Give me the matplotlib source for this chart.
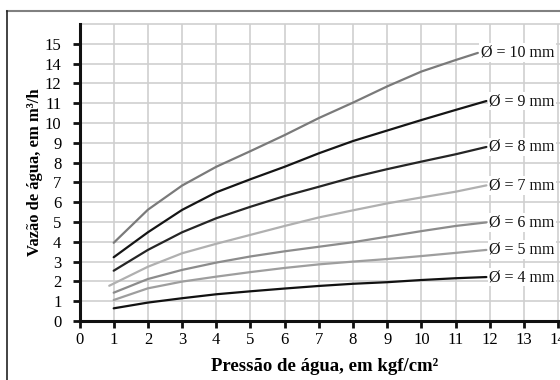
import matplotlib
matplotlib.use("Agg")
import matplotlib.pyplot as plt
from matplotlib.lines import Line2D

plt.rcParams['font.family'] = ['Liberation Serif', 'DejaVu Serif']

# Data (y values are in positions of the y tick scale, as drawn)
x_common = [1, 2, 3, 4, 5, 6, 7, 8, 9, 10, 11, 11.9]
d10_x = [1, 2, 3, 4, 5, 6, 7, 8, 9, 10, 11, 11.65]
d10_y = [3.95, 5.62, 6.84, 7.79, 8.58, 9.39, 10.25, 11.03, 11.85, 12.6, 13.18, 13.54]
d9_y = [3.22, 4.48, 5.61, 6.50, 7.16, 7.79, 8.47, 9.09, 9.62, 10.15, 10.66, 11.11]
d8_y = [2.54, 3.59, 4.48, 5.19, 5.77, 6.31, 6.78, 7.26, 7.67, 8.05, 8.42, 8.79]
d7_x = [0.87, 2, 3, 4, 5, 6, 7, 8, 9, 10, 11, 11.9]
d7_y = [1.78, 2.74, 3.42, 3.90, 4.35, 4.80, 5.23, 5.59, 5.94, 6.24, 6.53, 6.85]
d6_y = [1.43, 2.12, 2.58, 2.95, 3.26, 3.52, 3.75, 3.98, 4.26, 4.54, 4.80, 4.98]
d5_y = [1.06, 1.65, 1.99, 2.24, 2.47, 2.68, 2.86, 3.00, 3.13, 3.28, 3.44, 3.59]
d4_y = [0.64, 0.93, 1.15, 1.35, 1.50, 1.64, 1.77, 1.88, 1.96, 2.07, 2.16, 2.22]

series_labels = ["Ø = 10 mm", "Ø = 9 mm", "Ø = 8 mm", "Ø = 7 mm",
                 "Ø = 6 mm", "Ø = 5 mm", "Ø = 4 mm"]

x_ticks = list(range(0, 15))
y_tick_labels = ["0", "1", "2", "3", "4", "5", "6", "7", "8", "9",
                 "10", "11", "12", "14", "15"]

series = [
    (d10_x, d10_y, "#7a7a7a"),
    (x_common, d9_y, "#151515"),
    (x_common, d8_y, "#252525"),
    (d7_x, d7_y, "#b0b0b0"),
    (x_common, d6_y, "#8c8c8c"),
    (x_common, d5_y, "#9e9e9e"),
    (x_common, d4_y, "#111111"),
]

fig = plt.figure(figsize=(5.6, 3.8), dpi=100)
fig.patch.set_facecolor("white")
ax = fig.add_axes([79.5 / 560, 59 / 380, (570.5 - 79.5) / 560, 297 / 380])

for (xs, ys, col), lab in zip(series, series_labels):
    ax.plot(xs, ys, color=col, lw=1.6, solid_capstyle="round",
            solid_joinstyle="round", zorder=3)
    ax.text(xs[-1] + 0.08, ys[-1], lab, ha="left", va="center", fontsize=11.5,
            color="#111111", zorder=4,
            bbox=dict(facecolor="white", edgecolor="none", pad=1.0))

ax.set_xlim(0, 14.36)
ax.set_ylim(0, 15)
ax.set_xticks(x_ticks)
ax.set_xticklabels([str(v) for v in x_ticks], fontsize=12)
ax.set_yticks(range(len(y_tick_labels)))
ax.set_yticklabels(y_tick_labels, fontsize=12)
ax.grid(True, color="#cfcfcf", lw=1.2, zorder=0)
ax.set_axisbelow(True)
for s in ["top", "right"]:
    ax.spines[s].set_visible(False)
for s in ["left", "bottom"]:
    ax.spines[s].set_linewidth(2.2)
    ax.spines[s].set_color("#111111")
ax.tick_params(axis="both", direction="out", length=5, width=2, color="#111111")
ax.tick_params(axis="y", pad=8)
ax.tick_params(axis="x", pad=3)
ax.axhline(15, color="#cfcfcf", lw=1.2, zorder=0, clip_on=False)

ax.set_xlabel("Pressão de água, em kgf/cm²", fontsize=13.5, fontweight="bold", labelpad=7)
ax.set_ylabel("Vazão de água, em m³/h", fontsize=12, fontweight="bold", labelpad=1)

# outer frame
fig.add_artist(Line2D([7 / 560, 1.0], [1 - 11 / 380, 1 - 11 / 380],
                      transform=fig.transFigure, color="#808080", lw=1.5))
fig.add_artist(Line2D([7 / 560, 7 / 560], [0, 1 - 11 / 380],
                      transform=fig.transFigure, color="#222222", lw=1.2))

fig.savefig("out.png", dpi=100)
